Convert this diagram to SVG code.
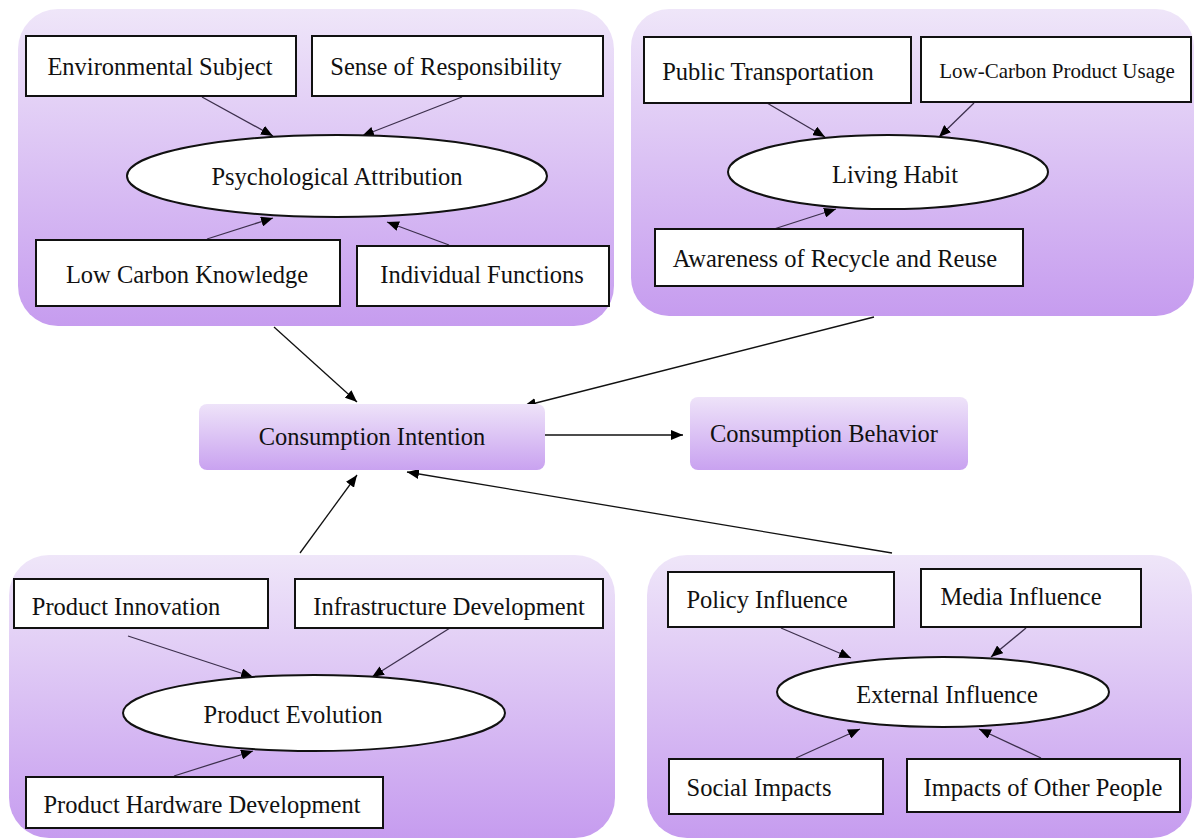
<svg xmlns="http://www.w3.org/2000/svg" width="1195" height="839" viewBox="0 0 1195 839">
<defs>
<linearGradient id="gbg" x1="0" y1="0" x2="0" y2="1">
<stop offset="0" stop-color="#efe6f9"/>
<stop offset="1" stop-color="#c69cef"/>
</linearGradient>
<linearGradient id="gbox" x1="0" y1="0" x2="0" y2="1">
<stop offset="0" stop-color="#eee3f9"/>
<stop offset="1" stop-color="#c9a2f0"/>
</linearGradient>
<marker id="ah" viewBox="0 0 12 10" refX="12" refY="5" markerWidth="12" markerHeight="10" markerUnits="userSpaceOnUse" orient="auto">
<path d="M0,0 L12,5 L0,10 z" fill="#000"/>
</marker>
</defs>
<style>
.grp{fill:url(#gbg);}
.box{fill:#fff;stroke:#111;stroke-width:2;}
.ell{fill:#fff;stroke:#111;stroke-width:2;}
.cbox{fill:url(#gbox);}
text{font-family:"Liberation Serif","Times New Roman",serif;font-size:24.5px;fill:#111;text-anchor:middle;}
.sm{font-size:21px;}
.in{stroke:#3c2f4c;stroke-width:1.3;fill:none;marker-end:url(#ah);}
.out{stroke:#111;stroke-width:1.3;fill:none;marker-end:url(#ah);}
</style>
<rect width="1195" height="839" fill="#fff"/>

<g id="group-psych">
<rect class="grp" x="18" y="9" width="596" height="317" rx="40"/>
</g>
<g id="group-living">
<rect class="grp" x="631" y="9" width="563" height="307" rx="38"/>
</g>
<g id="group-product">
<rect class="grp" x="9" y="555" width="606" height="283" rx="40"/>
</g>
<g id="group-external">
<rect class="grp" x="647" y="555" width="545" height="283" rx="40"/>
</g>

<g id="connectors">
<line class="in" x1="202" y1="97" x2="273" y2="136"/>
<line class="in" x1="462" y1="97" x2="362" y2="136"/>
<line class="in" x1="207" y1="239" x2="273" y2="218"/>
<line class="in" x1="449" y1="245" x2="387" y2="222"/>
<line class="in" x1="767" y1="103" x2="825" y2="137"/>
<line class="in" x1="974" y1="103" x2="939" y2="137"/>
<line class="in" x1="774" y1="229" x2="836" y2="209"/>
<line class="in" x1="128" y1="636" x2="253" y2="677"/>
<line class="in" x1="450" y1="628" x2="372" y2="677"/>
<line class="in" x1="174" y1="776" x2="253" y2="751"/>
<line class="in" x1="781" y1="628" x2="851" y2="658"/>
<line class="in" x1="1026" y1="628" x2="991" y2="657"/>
<line class="in" x1="796" y1="758" x2="860" y2="729"/>
<line class="in" x1="1041" y1="758" x2="979" y2="729"/>
<line class="out" x1="274" y1="327" x2="357" y2="402"/>
<line class="out" x1="874" y1="317" x2="524" y2="406"/>
<line class="out" x1="300" y1="553" x2="357" y2="475"/>
<line class="out" x1="892" y1="553" x2="407" y2="472"/>
<line class="out" x1="545" y1="435" x2="683" y2="435"/>
</g>

<g id="environmental-subject"><rect class="box" x="26" y="36" width="270" height="60"/><text x="160" y="75">Environmental Subject</text></g>
<g id="sense-of-responsibility"><rect class="box" x="312" y="36" width="291" height="60"/><text x="446" y="75">Sense of Responsibility</text></g>
<g id="psychological-attribution"><ellipse class="ell" cx="337" cy="176" rx="210" ry="41"/><text x="337" y="185">Psychological Attribution</text></g>
<g id="low-carbon-knowledge"><rect class="box" x="36" y="240" width="304" height="66"/><text x="187" y="283">Low Carbon Knowledge</text></g>
<g id="individual-functions"><rect class="box" x="357" y="246" width="252" height="60"/><text x="482" y="283">Individual Functions</text></g>

<g id="public-transportation"><rect class="box" x="644" y="37" width="267" height="66"/><text x="768" y="80">Public Transportation</text></g>
<g id="low-carbon-product-usage"><rect class="box" x="921" y="37" width="270" height="65"/><text class="sm" x="1057" y="78">Low-Carbon Product Usage</text></g>
<g id="living-habit"><ellipse class="ell" cx="888" cy="172" rx="160" ry="37"/><text x="895" y="183">Living Habit</text></g>
<g id="awareness-recycle-reuse"><rect class="box" x="655" y="229" width="368" height="57"/><text x="835" y="267">Awareness of Recycle and Reuse</text></g>

<g id="consumption-intention"><rect class="cbox" x="199" y="404" width="346" height="66" rx="8"/><text x="372" y="445">Consumption Intention</text></g>
<g id="consumption-behavior"><rect class="cbox" x="690" y="397" width="278" height="73" rx="8"/><text x="824" y="442">Consumption Behavior</text></g>

<g id="product-innovation"><rect class="box" x="14" y="579" width="254" height="49"/><text x="126" y="615">Product Innovation</text></g>
<g id="infrastructure-development"><rect class="box" x="295" y="579" width="308" height="49"/><text x="449" y="615">Infrastructure Development</text></g>
<g id="product-evolution"><ellipse class="ell" cx="314" cy="713" rx="191" ry="38"/><text x="293" y="723">Product Evolution</text></g>
<g id="product-hardware-development"><rect class="box" x="26" y="777" width="357" height="51"/><text x="202" y="813">Product Hardware Development</text></g>

<g id="policy-influence"><rect class="box" x="668" y="572" width="226" height="55"/><text x="767" y="608">Policy Influence</text></g>
<g id="media-influence"><rect class="box" x="921" y="569" width="220" height="58"/><text x="1021" y="605">Media Influence</text></g>
<g id="external-influence"><ellipse class="ell" cx="943" cy="692" rx="166" ry="35"/><text x="947" y="703">External Influence</text></g>
<g id="social-impacts"><rect class="box" x="669" y="759" width="214" height="55"/><text x="759" y="796">Social Impacts</text></g>
<g id="impacts-of-other-people"><rect class="box" x="907" y="759" width="273" height="53"/><text x="1043" y="796">Impacts of Other People</text></g>
</svg>
